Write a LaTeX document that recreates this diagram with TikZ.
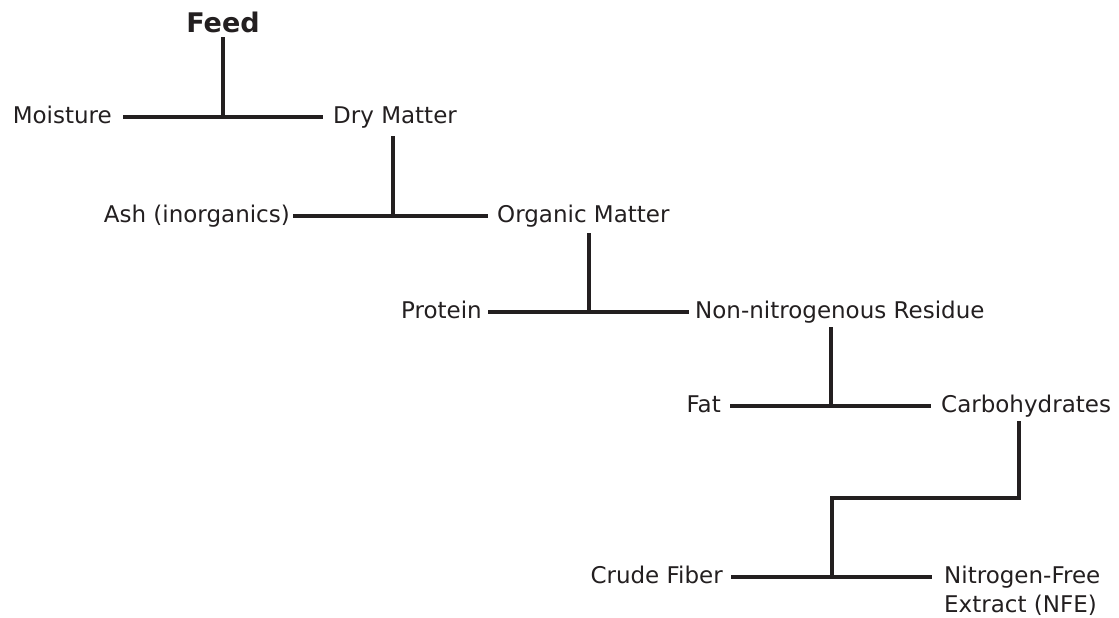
\documentclass[tikz,border=0pt]{standalone}
\usepackage{fontspec}
\setmainfont{DejaVu Sans}
\definecolor{ink}{HTML}{231F20}
\tikzset{
  lbl/.style={inner xsep=0pt, inner ysep=0pt, text height=17pt, text depth=5pt,
    text=ink, font=\fontsize{23}{29}\selectfont},
  lft/.style={lbl, anchor=east},
  rgt/.style={lbl, anchor=west},
  conn/.style={draw=ink, line width=3.1pt},
}
\begin{document}
\begin{tikzpicture}[x=1pt,y=-1pt]
\useasboundingbox (0,0) rectangle (1119,618);
% nodes
\node[lbl, anchor=base, font=\fontsize{27}{31}\bfseries, text depth=4pt] (feed) at (223,33) {Feed};
\node[lft] (moist) at (112,117) {Moisture};
\node[rgt] (dry)   at (333,117) {Dry Matter};
\node[lft] (ash)   at (290,216) {Ash (inorganics)};
\node[rgt] (org)   at (497,216) {Organic Matter};
\node[lft] (prot)  at (482,312) {Protein};
\node[rgt] (nnr)   at (695,312) {Non-nitrogenous Residue};
\node[lft] (fat)   at (721,406) {Fat};
\node[rgt] (carb)  at (941,406) {Carbohydrates};
\node[lft] (fib)   at (723,577) {Crude Fiber};
\node[inner sep=0pt, text=ink, font=\fontsize{23}{29}\selectfont, anchor=base west] (nfe) at (944,583)
  {\renewcommand{\arraystretch}{1}\begin{tabular}[t]{@{}l@{}}Nitrogen-Free\\Extract (NFE)\end{tabular}};
% junctions
\coordinate (j1) at (223,117);
\coordinate (j2) at (393,216);
\coordinate (j3) at (589,312);
\coordinate (j4) at (831,406);
\coordinate (j5) at (832,577);
\coordinate (k5) at (832,498);
% connectors
\draw[conn] ([xshift=11pt]moist.east) -- ([xshift=-10pt]dry.west);
\draw[conn] (feed.south) -- (j1);
\draw[conn] ([xshift=3pt]ash.east) -- ([xshift=-9pt]org.west);
\draw[conn, shorten <=8pt] (dry.south -| j2) -- (j2);
\draw[conn] ([xshift=6pt]prot.east) -- ([xshift=-6pt]nnr.west);
\draw[conn, shorten <=6pt] (org.south -| j3) -- (j3);
\draw[conn] ([xshift=9pt]fat.east) -- ([xshift=-10pt]carb.west);
\draw[conn, shorten <=4pt] (nnr.south -| j4) -- (j4);
\draw[conn] ([xshift=8pt]fib.east) -- ([xshift=-12pt]fib.east -| nfe.west);
\draw[conn, shorten <=4pt, line join=miter] (carb.south -| 1019,0) |- (k5) -- (j5);
\end{tikzpicture}
\end{document}
